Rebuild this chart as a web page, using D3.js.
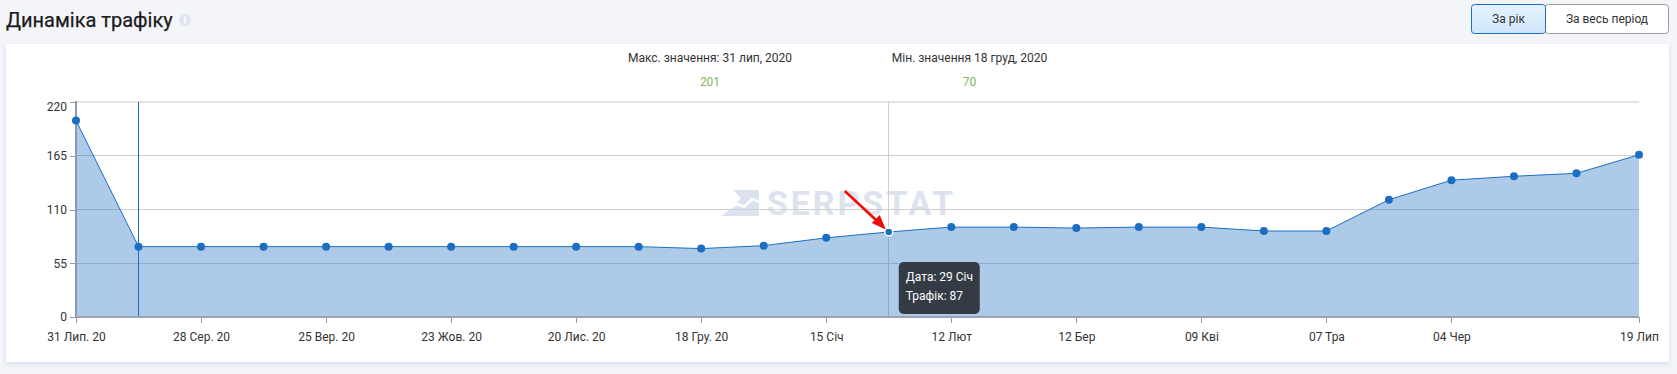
<!DOCTYPE html>
<html>
<head>
<meta charset="utf-8">
<script src="https://cdn.jsdelivr.net/npm/d3@7"></script>
<style>
    html, body { margin: 0; padding: 0; background: #f3f5f9; overflow: hidden; }
    text { font-family: Roboto, sans-serif; }
    .x-axis path, .y-axis path { display: none; }
    .x-axis line, .y-axis line { stroke: #9a9a9a; shape-rendering: crispEdges; }
    .x-axis text, .y-axis text { font-size: 12px; fill: #333; font-family: Roboto, sans-serif; }
    .crisp { shape-rendering: crispEdges; }
</style>
</head>
<body>
<div id="my_dataviz"></div>
<script>
const dates = ['31 Лип. 20', '14 Сер. 20', '28 Сер. 20', '11 Вер. 20', '25 Вер. 20', '09 Жов. 20', '23 Жов. 20',
    '06 Лис. 20', '20 Лис. 20', '04 Гру. 20', '18 Гру. 20', '01 Січ', '15 Січ', '29 Січ', '12 Лют', '26 Лют',
    '12 Бер', '26 Бер', '09 Кві', '23 Кві', '07 Тра', '21 Тра', '04 Чер', '18 Чер', '02 Лип', '19 Лип'];
const traffic = [201, 72, 72, 72, 72, 72, 72, 72, 72, 72, 70, 73, 81, 87, 92, 92, 91, 92, 92, 88, 88, 120, 140, 144, 147, 166];
const xLabels = ['31 Лип. 20', '28 Сер. 20', '25 Вер. 20', '23 Жов. 20', '20 Лис. 20', '18 Гру. 20', '15 Січ',
    '12 Лют', '12 Бер', '09 Кві', '07 Тра', '04 Чер', '19 Лип'];
const yTicks = [0, 55, 110, 165, 220];
const markerDate = '14 Сер. 20';
const hoverDate = '29 Січ';

const rows = dates.map((d, i) => ({ date: d, value: traffic[i] }));

let margin = { top: 102, right: 38, bottom: 57, left: 76 },
    width = 1677 - margin.left - margin.right,
    height = 374 - margin.top - margin.bottom;

let root = d3.select('#my_dataviz')
    .append('svg')
    .attr('width', 1677)
    .attr('height', 374)
    .style('display', 'block');

// header
root.append('text')
    .attr('x', 6).attr('y', 27)
    .attr('font-size', 20).attr('font-weight', 400).attr('stroke', '#1b1b1b').attr('stroke-width', 0.25)
    .attr('fill', '#1b1b1b')
    .text('Динаміка трафіку');

root.append('circle').attr('cx', 185).attr('cy', 20).attr('r', 6).attr('fill', '#dfe4f0');
root.append('text')
    .attr('x', 185).attr('y', 24)
    .attr('text-anchor', 'middle').attr('font-size', 10).attr('font-weight', 700).attr('fill', '#fff')
    .text('i');

// buttons
let grad = root.append('defs').append('linearGradient')
    .attr('id', 'btn').attr('x1', 0).attr('y1', 0).attr('x2', 0).attr('y2', 1);
grad.append('stop').attr('offset', 0).attr('stop-color', '#e6f2fc');
grad.append('stop').attr('offset', 1).attr('stop-color', '#cfe7fb');

root.append('rect')
    .attr('x', 1545.5).attr('y', 4.5).attr('width', 123).attr('height', 29).attr('rx', 3)
    .attr('fill', '#fff').attr('stroke', '#9b9b9b');
root.append('rect')
    .attr('x', 1471.5).attr('y', 4.5).attr('width', 74).attr('height', 29).attr('rx', 3)
    .attr('fill', 'url(#btn)').attr('stroke', '#1c6ec2');
root.append('text')
    .attr('x', 1508.5).attr('y', 23).attr('text-anchor', 'middle')
    .attr('font-size', 12).attr('fill', '#333')
    .text('За рік');
root.append('text')
    .attr('x', 1607).attr('y', 23).attr('text-anchor', 'middle')
    .attr('font-size', 12).attr('fill', '#333')
    .text('За весь період');

// card
root.append('rect')
    .attr('x', 6).attr('y', 46).attr('width', 1663).attr('height', 318)
    .attr('fill', '#d3d9e8').style('filter', 'blur(2px)');
root.append('rect')
    .attr('x', 6).attr('y', 44).attr('width', 1663).attr('height', 318)
    .attr('fill', '#fff');

// max / min summary
let maxRow = d3.greatest(rows, d => d.value);
let minRow = d3.least(rows, d => d.value);
let summary = [
    { label: 'Макс. значення: 31 лип, 2020', value: maxRow.value, x: 710 },
    { label: 'Мін. значення 18 груд, 2020', value: minRow.value, x: 969.5 }
];
summary.forEach(s => {
    root.append('text')
        .attr('x', s.x).attr('y', 62).attr('text-anchor', 'middle')
        .attr('font-size', 12).attr('fill', '#333')
        .text(s.label);
    root.append('text')
        .attr('x', s.x).attr('y', 86).attr('text-anchor', 'middle')
        .attr('font-size', 12).attr('fill', '#7cb862')
        .text(s.value);
});

let svg = root.append('g')
    .attr('transform', 'translate(' + margin.left + ',' + margin.top + ')');

let x = d3.scalePoint()
    .domain(dates)
    .range([0, width]);

let y = d3.scaleLinear()
    .domain([0, 220])
    .range([height, 0]);

// watermark, sits behind the grid
let mark = svg.append('g').attr('transform', 'translate(' + (722 - margin.left) + ',' + (190 - margin.top) + ')');
mark.append('path')
    .attr('d', 'M11,0 L37,0 L37,26 L0,26 L12,15 L19,8 Z')
    .attr('fill', '#dde2ef');
mark.append('path')
    .attr('d', 'M6,19 L15,14 L22,17 L30,9 L38,12')
    .attr('fill', 'none').attr('stroke', '#fff').attr('stroke-width', 2.5);
svg.append('text')
    .attr('x', 767 - margin.left).attr('y', 215 - margin.top)
    .attr('font-size', 34).attr('font-weight', 700).attr('letter-spacing', 2.9).attr('fill', '#dde2ef')
    .text('SERPSTAT');

// grid
svg.selectAll('.grid')
    .data(yTicks.filter(d => d > 0))
    .enter().append('line')
    .attr('class', 'grid crisp')
    .attr('x1', 0).attr('x2', width)
    .attr('y1', d => y(d)).attr('y2', d => y(d))
    .attr('stroke', d => d === 220 ? '#e4e4e4' : '#cfcfcf')
    .attr('stroke-width', d => d === 220 ? 2 : 1);

// vertical markers
svg.append('line')
    .attr('class', 'crisp')
    .attr('x1', x(hoverDate)).attr('x2', x(hoverDate))
    .attr('y1', 0).attr('y2', height)
    .attr('stroke', '#cfcfcf');
svg.append('line')
    .attr('class', 'crisp')
    .attr('x1', x(markerDate)).attr('x2', x(markerDate))
    .attr('y1', 0).attr('y2', height)
    .attr('stroke', '#1c6ec2');

// area + line
svg.append('path')
    .datum(rows)
    .attr('fill', '#1a6cc0')
    .attr('opacity', '.358')
    .attr('d', d3.area()
        .x(d => x(d.date))
        .y0(height)
        .y1(d => y(d.value)));

svg.append('path')
    .datum(rows)
    .attr('fill', 'none')
    .attr('stroke', '#1c6ec2')
    .attr('stroke-width', 1)
    .attr('d', d3.line()
        .x(d => x(d.date))
        .y(d => y(d.value)));

// axes
let xAxis = svg.append('g')
    .attr('class', 'x-axis')
    .attr('transform', 'translate(0,' + height + ')')
    .call(d3.axisBottom(x).tickValues(xLabels).tickSize(6).tickPadding(9));

let yAxis = svg.append('g')
    .attr('class', 'y-axis')
    .call(d3.axisLeft(y).tickValues(yTicks).tickSize(6).tickPadding(3));
// top label is pushed down so it stays inside the plot area
yAxis.selectAll('.tick').filter(d => d === 220).select('text').attr('dy', '0.72em');

svg.append('line')
    .attr('class', 'crisp')
    .attr('x1', 0).attr('x2', 0).attr('y1', -1).attr('y2', height + 1)
    .attr('stroke', '#8a9bb0').attr('stroke-width', 2);
svg.append('line')
    .attr('class', 'crisp')
    .attr('x1', 0).attr('x2', width).attr('y1', height).attr('y2', height)
    .attr('stroke', '#9aa5b1').attr('stroke-width', 2);

// points
svg.selectAll('.dot')
    .data(rows)
    .enter().append('circle')
    .attr('class', 'dot')
    .attr('cx', d => x(d.date))
    .attr('cy', d => y(d.value))
    .attr('r', 4)
    .attr('fill', '#1c6ec2')
    .attr('stroke', d => d.date === hoverDate ? '#fff' : 'none')
    .attr('stroke-width', 1.5);

// red arrow pointing at the hovered point
let hx = x(hoverDate), hy = y(traffic[dates.indexOf(hoverDate)]);
svg.append('line')
    .attr('x1', hx - 44).attr('y1', hy - 41)
    .attr('x2', hx - 10).attr('y2', hy - 9.5)
    .attr('stroke', '#f00b0b').attr('stroke-width', 2.6);
svg.append('path')
    .attr('d', 'M' + (hx - 3) + ',' + (hy - 2.5) + ' L' + (hx - 17) + ',' + (hy - 9) + ' L' + (hx - 9) + ',' + (hy - 17) + ' Z')
    .attr('fill', '#f00b0b');

// tooltip
let tip = svg.append('g').attr('transform', 'translate(' + (hx + 10) + ',' + (262 - margin.top) + ')');
tip.append('rect')
    .attr('width', 81).attr('height', 52).attr('rx', 5)
    .attr('fill', '#343b45');
tip.append('text')
    .attr('x', 7).attr('y', 19)
    .attr('font-size', 12).attr('fill', '#fff')
    .text('Дата: ' + hoverDate);
tip.append('text')
    .attr('x', 7).attr('y', 38)
    .attr('font-size', 12).attr('fill', '#fff')
    .text('Трафік: ' + traffic[dates.indexOf(hoverDate)]);
</script>
</body>
</html>
